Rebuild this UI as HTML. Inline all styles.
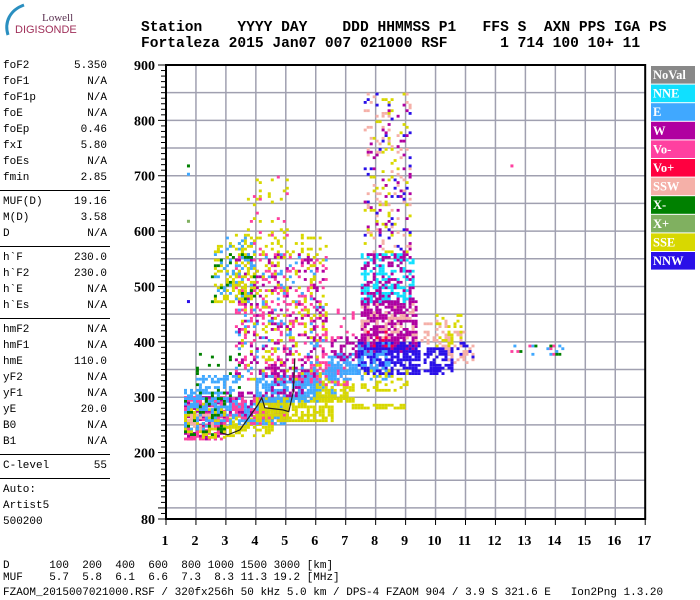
<!DOCTYPE html>
<html><head><meta charset="utf-8">
<style>
html,body{margin:0;padding:0;background:#fff;width:700px;height:600px;overflow:hidden;position:relative;font-family:"Liberation Mono",monospace;}
.t{position:absolute;white-space:pre;color:#000;}
.lp{font-size:11px;}
.hd{font-family:"Liberation Mono",monospace;font-weight:bold;font-size:14.6px;left:141px;}
.hr{position:absolute;left:0;width:110px;height:1px;background:#000;}
</style></head>
<body>
<div style="position:absolute;left:2px;top:2px;width:80px;height:40px;">
<svg width="80" height="40"><path d="M6,33 C2,20 8,8 22,3" stroke="#2a8fc0" stroke-width="3" fill="none"/><text x="40" y="19" font-family="Liberation Serif" font-size="11" fill="#5a3050">Lowell</text><text x="13" y="31" font-family="Liberation Sans" font-size="11" fill="#a0305a">DIGISONDE</text></svg>
</div>
<div class="t hd" style="top:20px;">Station    YYYY DAY    DDD HHMMSS P1   FFS S  AXN PPS IGA PS</div>
<div class="t hd" style="top:36px;">Fortaleza 2015 Jan07 007 021000 RSF      1 714 100 10+ 11</div>

<div id="left"></div>
<svg id="chart" width="700" height="600" style="position:absolute;left:0;top:0;"></svg>

<div class="t lp" style="left:3px;top:560px;">D      100  200  400  600  800 1000 1500 3000 [km]</div>
<div class="t lp" style="left:3px;top:572px;">MUF    5.7  5.8  6.1  6.6  7.3  8.3 11.3 19.2 [MHz]</div>
<div class="t lp" style="left:3px;top:587px;">FZAOM_2015007021000.RSF / 320fx256h 50 kHz 5.0 km / DPS-4 FZAOM 904 / 3.9 S 321.6 E   Ion2Png 1.3.20</div>

<script>
const paramNames=["foF2","foF1","foF1p","foE","foEp","fxI","foEs","fmin","|","MUF(D)","M(D)","D","|","h`F","h`F2","h`E","h`Es","|","hmF2","hmF1","hmE","yF2","yF1","yE","B0","B1","|","C-level","|","Auto:","Artist5","500200"];
const paramValues=["5.350","N/A","N/A","N/A","0.46","5.80","N/A","2.85","","19.16","3.58","N/A","","230.0","230.0","N/A","N/A","","N/A","N/A","110.0","N/A","N/A","20.0","N/A","N/A","","55","","","",""];
const freqTicks=[1,2,3,4,5,6,7,8,9,10,11,12,13,14,15,16,17];
const heightTicks=[80,200,300,400,500,600,700,800,900];
const legendNames=["NoVal","NNE","E","W","Vo-","Vo+","SSW","X-","X+","SSE","NNW"];
const legendColors=["#888888","#10e0ff","#40a8ff","#b000a0","#ff40a0","#ff0040","#f5b0a8","#008000","#80b060","#d8d800","#2a10e8"];
// echo regions: [fStart, fEnd, hStart, hEnd, polarization, density]
const echoBlocks=[
[1.6,3.0,222,300,"W",0.6],[1.6,3.0,222,300,"Vo-",0.45],[1.6,3.0,225,290,"SSE",0.3],[1.6,3.0,230,300,"X-",0.2],
[1.6,3.0,240,300,"E",0.3],[1.7,2.6,240,270,"SSW",0.25],[1.6,2.2,295,315,"E",0.6],[2.0,3.5,280,340,"E",0.45],
[2.0,3.5,290,380,"X-",0.1],[3.0,4.5,228,265,"SSE",0.6],[3.0,5.0,250,300,"E",0.55],[3.0,5.0,260,310,"W",0.3],
[3.0,5.0,250,300,"Vo-",0.25],[4.0,6.5,255,300,"SSE",0.7],[4.0,6.0,290,340,"E",0.6],[4.5,5.5,300,360,"W",0.35],
[5.5,6.6,300,350,"E",0.4],[6.0,7.2,290,330,"SSE",0.6],[5.8,7.0,320,370,"Vo-",0.35],[6.4,7.3,330,380,"E",0.65],
[6.5,7.5,365,410,"W",0.35],[6.4,7.2,390,460,"Vo-",0.12],
[3.3,6.3,330,560,"Vo-",0.15],[3.3,6.3,330,560,"W",0.1],[3.3,6.3,330,560,"E",0.08],[3.3,6.3,330,600,"SSE",0.1],
[3.6,5.0,560,700,"SSE",0.08],[3.6,5.0,560,700,"Vo-",0.05],[2.6,4.0,470,580,"SSE",0.35],[2.6,4.0,480,590,"E",0.12],[2.5,4.0,470,560,"X-",0.05],
[7.5,9.3,380,480,"W",0.7],[7.5,9.3,400,470,"SSW",0.18],[7.5,9.2,470,560,"NNE",0.45],[7.5,9.2,470,560,"W",0.3],
[7.6,9.1,560,850,"SSW",0.08],[7.6,9.1,560,850,"SSE",0.06],[7.6,9.1,560,850,"NNW",0.04],[7.6,9.1,560,850,"W",0.05],
[7.4,9.4,340,400,"NNW",0.7],[7.4,8.4,330,400,"E",0.4],[7.5,9.0,310,350,"SSE",0.25],[7.5,9.0,390,420,"Vo+",0.06],
[9.6,10.5,340,390,"NNW",0.65],[9.5,10.4,380,440,"SSW",0.3],[10.0,10.8,390,450,"SSE",0.25],[10.4,11.2,360,420,"SSW",0.25],
[10.5,11.2,370,400,"NNW",0.25],[7.2,9.0,278,284,"SSE",0.7],[12.4,14.3,375,395,"E",0.1],[12.4,14.3,375,395,"Vo-",0.06],[12.4,14.3,375,395,"X-",0.06]
];
const isoFreq=[1.7,1.7,1.7,1.7,12.5];
const isoHeight=[700,715,470,615,715];
const isoPol=["E","X-","NNW","X+","Vo-"];
const traceFreq=[2.8,3.07,3.47,4.07,4.2,4.3,4.9,5.1,5.25,5.3];
const traceHeight=[236,232,241,286,299,281,277,274,310,370];

const NS="http://www.w3.org/2000/svg";
const svg=document.getElementById("chart");
const X0=166,XW=29.95,Y0=65,YMAX=900,YMIN=80,YH=454;
function xs(f){return X0+(f-1)*XW;}
function ys(h){return Y0+(YMAX-h)/(YMAX-YMIN)*YH;}
function mk(tag,attrs){const e=document.createElementNS(NS,tag);for(const k in attrs)e.setAttribute(k,attrs[k]);svg.appendChild(e);return e;}
function colorOf(p){return legendColors[legendNames.indexOf(p)];}

// left panel
const left=document.getElementById("left");
let y=60;
paramNames.forEach((n,i)=>{
  if(n==="|"){const d=document.createElement("div");d.className="hr";d.style.top=(y+2)+"px";
  
  
  left.appendChild(d);y+=8;return;}
  const a=document.createElement("div");a.className="t lp";a.style.left="3px";a.style.top=y+"px";a.textContent=n;
  
  
  left.appendChild(a);
  if(paramValues[i]){const b=document.createElement("div");b.className="t lp";b.style.left="40px";b.style.width="67px";b.style.textAlign="right";b.style.top=y+"px";b.textContent=paramValues[i];
  
  
  left.appendChild(b);}
  y+=16;
});

// grid
for(let h=100;h<900;h+=50){const l=mk("line",{x1:X0,x2:xs(17),y1:ys(h),y2:ys(h),stroke:"#a0a0b0","stroke-width":1.5});

}
freqTicks.forEach(f=>{if(f>1&&f<17){const l=mk("line",{x1:xs(f),x2:xs(f),y1:Y0,y2:Y0+YH,stroke:"#a0a0b0","stroke-width":1.5});

}});

// echoes
const g=mk("g",{"clip-path":"url(#pc)"});


const defs=mk("defs",{});const cp=document.createElementNS(NS,"clipPath");cp.setAttribute("id","pc");
const cr=document.createElementNS(NS,"rect");cr.setAttribute("x",X0);cr.setAttribute("y",Y0);cr.setAttribute("width",xs(17)-X0);cr.setAttribute("height",YH);cp.appendChild(cr);defs.appendChild(cp);
function hash(a,b,c){let h=(a*374761393+b*668265263+c*2147483647)|0;h=(h^(h>>>13))*1274126177|0;h^=h>>>16;return (h>>>0)/4294967296;}
echoBlocks.forEach((bk,bi)=>{
  const [f0,f1,h0,h1,p,d]=bk;const col=colorOf(p);
  for(let f=f0;f<f1;f+=0.1){for(let h=h0;h<h1;h+=5){
    const i=Math.round(f*10),j=Math.round(h/5);
    if(hash(i,j,bi+7)<d){const r=document.createElementNS(NS,"rect");
      r.setAttribute("x",xs(f).toFixed(1));r.setAttribute("y",(ys(h)-2.8).toFixed(1));r.setAttribute("width",3);r.setAttribute("height",2.8);r.setAttribute("fill",col);
      
      
      g.appendChild(r);}
  }}
});
isoFreq.forEach((f,i)=>{const r=mk("rect",{x:xs(f),y:ys(isoHeight[i])-3,width:3,height:3,fill:colorOf(isoPol[i])});

});
// trace
const pts=traceFreq.map((f,i)=>xs(f).toFixed(1)+","+ys(traceHeight[i]).toFixed(1)).join(" ");
const pl=mk("polyline",{points:pts,fill:"none",stroke:"#222",  "stroke-width":1.2});



// frame
const fr=mk("rect",{x:X0,y:Y0,width:xs(17)-X0,height:YH,fill:"none",stroke:"#000","stroke-width":2});


// y minor ticks
for(let h=80;h<=900;h+=10){const mj=(h%100===0)||h===80;const l=mk("line",{x1:X0-(mj?8:5),x2:X0,y1:ys(h),y2:ys(h),stroke:"#000","stroke-width":1});

}
heightTicks.forEach(h=>{const t=mk("text",{x:155,y:ys(h)+5,"text-anchor":"end","font-family":"Liberation Serif","font-weight":"bold","font-size":14});t.textContent=h;

});
freqTicks.forEach(f=>{const l=mk("line",{x1:xs(f),x2:xs(f),y1:Y0+YH,y2:Y0+YH+6,stroke:"#000"});


const t=mk("text",{x:xs(f)-1,y:545,"text-anchor":"middle","font-family":"Liberation Serif","font-weight":"bold","font-size":14});t.textContent=f;

});
// legend
legendNames.forEach((n,i)=>{const yy=66+i*18.6;
const r=mk("rect",{x:651,y:yy,width:44,height:17.6,fill:legendColors[i]});


const t=mk("text",{x:653,y:yy+13,fill:"#fff","font-family":"Liberation Serif","font-weight":"bold","font-size":12.5});t.textContent=n;

});
</script>
</body></html>
